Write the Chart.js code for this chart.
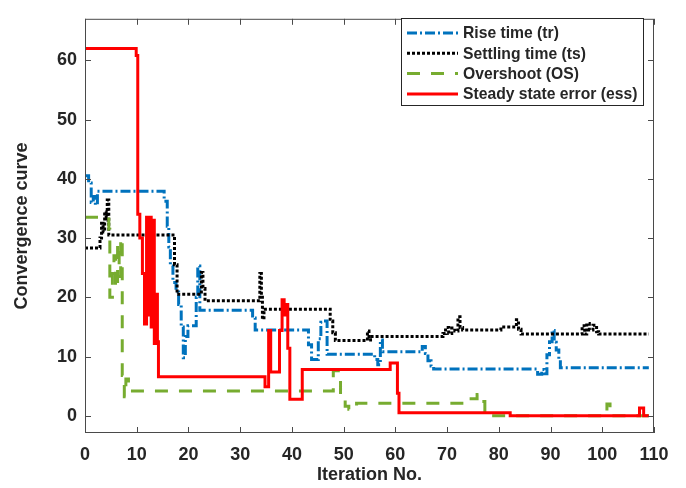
<!DOCTYPE html>
<html>
<head>
<meta charset="utf-8">
<script src="https://cdn.jsdelivr.net/npm/chart.js@4.4.1/dist/chart.umd.min.js"></script>
<style>
  body { margin: 0; background: #ffffff; }
</style>
</head>
<body>
<canvas id="convergenceChart" width="686" height="488"></canvas>
<script>
// tick labels
var xTicks = [0, 10, 20, 30, 40, 50, 60, 70, 80, 90, 100, 110];
var yTicks = [0, 10, 20, 30, 40, 50, 60];

// Rise time (tr)
var riseX = [0, 0.7, 1.2, 1.6, 2.0, 2.4, 15.3, 15.9, 16.2, 16.5, 17.0, 17.6, 18.1, 18.6, 19.0, 19.4, 19.9, 21.5, 21.8, 22.2,
  32.4, 32.9, 43.2, 43.8, 45.1, 45.6, 46.2, 46.8, 56.0, 56.6, 57.1, 57.5, 65.2, 65.8, 66.3, 66.9, 67.4,
  87.5, 88.3, 88.8, 89.3, 89.8, 90.3, 90.7, 91.1, 91.6, 91.9, 109];
var riseY = [40.5, 39.3, 36.0, 37.0, 35.6, 37.9, 36.2, 32.0, 28.5, 25.3, 22.5, 20.9, 18.8, 15.0, 9.8, 13.4, 15.2, 20.0, 25.3, 17.8,
  16.5, 14.5, 12.0, 9.5, 13.0, 15.8, 16.0, 10.4, 9.5, 8.6, 12.8, 10.8, 11.7, 10.5, 9.3, 8.4, 7.9,
  7.0, 7.8, 7.1, 10.3, 12.5, 14.4, 12.4, 11.1, 9.5, 8.1, 8.1];

// Settling time (ts)
var settleX = [0, 2.9, 3.2, 3.5, 3.8, 4.1, 4.3, 4.6, 17.3, 17.8, 22.5, 22.8, 23.2, 33.8, 34.1, 34.3, 34.6,
  47.4, 47.9, 48.4, 54.6, 54.9, 55.2, 69.2, 69.7, 70.3, 70.9, 71.5, 72.1, 72.5, 73.0,
  80.4, 83.4, 83.8, 84.3, 96.1, 96.6, 97.0, 97.5, 98.2, 98.9, 99.3, 109];
var settleY = [28.3, 30.0, 32.5, 31.0, 34.5, 33.0, 36.4, 30.5, 25.5, 20.5, 24.2, 21.5, 19.4, 24.0, 20.0, 16.3, 18.0,
  16.0, 14.0, 12.7, 14.3, 12.8, 13.4, 13.9, 14.9, 13.9, 14.8, 14.3, 16.7, 14.9, 14.5,
  15.0, 16.2, 14.6, 13.8, 15.2, 13.8, 15.6, 14.5, 15.3, 14.2, 13.8, 13.8];

// Overshoot (OS)
var overX = [0, 4.6, 4.8, 5.3, 5.6, 5.9, 6.3, 6.6, 6.9, 7.2, 7.6, 7.9, 8.4, 48.0, 49.4, 50.3, 51.0, 52.5,
  73.9, 75.8, 76.4, 77.3, 100.9, 101.5, 109];
var overY = [33.5, 31.5, 20.0, 24.0, 27.0, 21.5, 29.0, 23.5, 30.0, 6.8, 3.2, 6.2, 4.2, 7.6, 3.0, 1.6, 1.1, 2.1,
  2.9, 3.6, 2.4, 0, 2.0, 0, 0];

// Steady state error (ess)
var essX = [0, 9.9, 10.2, 10.6, 11.1, 11.5, 11.9, 12.2, 12.5, 12.8, 13.1, 13.4, 13.7, 14.0, 14.2,
  34.8, 35.5, 35.9, 37.6, 38.1, 38.5, 38.8, 39.2, 39.6, 42.0, 59.0, 60.4, 60.7, 82.2, 107.2, 108.0, 109];
var essY = [62, 60.8, 34.0, 30.0, 24.0, 15.5, 33.5, 17.0, 33.5, 15.0, 33.0, 12.2, 20.5, 12.5, 6.6,
  4.9, 14.4, 7.4, 14.4, 19.6, 17.0, 18.8, 11.4, 2.8, 7.8, 8.9, 3.8, 0.5, 0, 1.3, 0, 0];

var textColor = "#262626";
var tickFont = { family: "Liberation Sans", size: 18, weight: "bold" };

function toPoints(xs, ys) {
  var pts = [];
  for (var i = 0; i < xs.length; i++) {
    pts.push({ x: xs[i], y: ys[i] });
  }
  return pts;
}

// MATLAB style box with inward ticks on all four sides
var framePlugin = {
  id: "frame",
  afterDraw: function (chart) {
    var ctx = chart.ctx;
    var a = chart.chartArea;
    var sx = chart.scales.x;
    var sy = chart.scales.y;
    ctx.save();
    ctx.strokeStyle = "#4a4a4a";
    ctx.lineWidth = 1;
    ctx.setLineDash([]);
    ctx.strokeRect(a.left + 0.5, a.top + 0.5, a.right - a.left - 1, a.bottom - a.top - 1);
    ctx.beginPath();
    xTicks.forEach(function (v) {
      var px = Math.round(sx.getPixelForValue(v)) + 0.5;
      ctx.moveTo(px, a.bottom);
      ctx.lineTo(px, a.bottom - 6);
      ctx.moveTo(px, a.top);
      ctx.lineTo(px, a.top + 6);
    });
    yTicks.forEach(function (v) {
      var py = Math.round(sy.getPixelForValue(v)) + 0.5;
      ctx.moveTo(a.left, py);
      ctx.lineTo(a.left + 6, py);
      ctx.moveTo(a.right, py);
      ctx.lineTo(a.right - 6, py);
    });
    ctx.stroke();
    ctx.restore();
  }
};

// legend box in the upper right corner
var legendPlugin = {
  id: "boxLegend",
  afterDraw: function (chart) {
    var ctx = chart.ctx;
    var left = 401, top = 18, width = 242, height = 87;
    ctx.save();
    ctx.fillStyle = "#ffffff";
    ctx.fillRect(left, top, width, height);
    ctx.strokeStyle = "#262626";
    ctx.lineWidth = 1;
    ctx.strokeRect(left + 0.5, top + 0.5, width, height);
    ctx.font = "bold 15.7px 'Liberation Sans'";
    ctx.textBaseline = "middle";
    chart.data.datasets.forEach(function (ds, i) {
      var y = top + 15 + i * 20.3;
      ctx.beginPath();
      ctx.strokeStyle = ds.borderColor;
      ctx.lineWidth = ds.borderWidth;
      ctx.setLineDash(ds.borderDash || []);
      ctx.moveTo(left + 6, y);
      ctx.lineTo(left + 57, y);
      ctx.stroke();
      ctx.setLineDash([]);
      ctx.fillStyle = textColor;
      ctx.fillText(ds.label, left + 62, y + 1);
    });
    ctx.restore();
  }
};

new Chart(document.getElementById("convergenceChart"), {
  type: "line",
  data: {
    datasets: [
      {
        label: "Rise time (tr)",
        data: toPoints(riseX, riseY),
        borderColor: "#0072BD",
        borderWidth: 3,
        borderDash: [10, 3, 2, 3],
        order: 3
      },
      {
        label: "Settling time (ts)",
        data: toPoints(settleX, settleY),
        borderColor: "#000000",
        borderWidth: 3,
        borderDash: [3, 2],
        order: 2
      },
      {
        label: "Overshoot (OS)",
        data: toPoints(overX, overY),
        borderColor: "#77AC30",
        borderWidth: 3,
        borderDash: [13, 11],
        order: 1
      },
      {
        label: "Steady state error (ess)",
        data: toPoints(essX, essY),
        borderColor: "#FF0000",
        borderWidth: 3,
        order: 0
      }
    ]
  },
  options: {
    responsive: false,
    animation: false,
    devicePixelRatio: 1,
    datasets: {
      line: {
        stepped: true,
        fill: false,
        pointRadius: 0,
        tension: 0
      }
    },
    layout: { padding: { top: 5, right: 32, left: 0, bottom: 0 } },
    plugins: {
      legend: { display: false },
      tooltip: { enabled: false }
    },
    scales: {
      x: {
        type: "linear",
        min: 0,
        max: 110,
        afterBuildTicks: function (scale) {
          scale.ticks = xTicks.map(function (v) { return { value: v }; });
        },
        afterFit: function (scale) { scale.height = 55; },
        grid: { display: false, drawTicks: false },
        border: { display: false },
        ticks: { font: tickFont, color: textColor, padding: 11, maxRotation: 0, autoSkip: false },
        title: {
          display: true,
          text: "Iteration No.",
          font: tickFont,
          color: textColor,
          padding: { top: 0, bottom: 2 }
        }
      },
      y: {
        type: "linear",
        min: -2.9,
        max: 67,
        afterBuildTicks: function (scale) {
          scale.ticks = yTicks.map(function (v) { return { value: v }; });
        },
        afterFit: function (scale) { scale.width = 85; },
        grid: { display: false, drawTicks: false },
        border: { display: false },
        ticks: { font: tickFont, color: textColor, padding: 8 },
        title: {
          display: true,
          text: "Convergence curve",
          font: tickFont,
          color: textColor,
          padding: { top: 11, bottom: 0 }
        }
      }
    }
  },
  plugins: [framePlugin, legendPlugin]
});
</script>
</body>
</html>
